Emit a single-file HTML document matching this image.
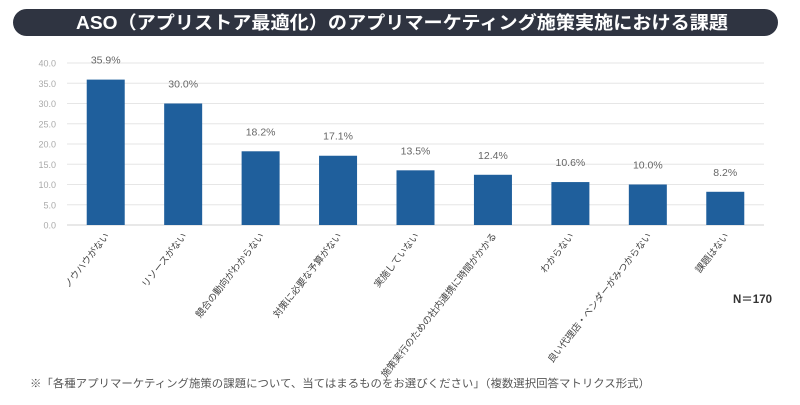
<!DOCTYPE html>
<html><head><meta charset="utf-8"><style>
body{margin:0;background:#fff;width:800px;height:400px;overflow:hidden;font-family:"Liberation Sans","Noto Sans CJK JP",sans-serif}
</style></head><body>
<svg width="800" height="400" xmlns="http://www.w3.org/2000/svg" style="font-family:'Liberation Sans','Noto Sans CJK JP',sans-serif">
<rect x="13" y="9" width="765" height="27" rx="13.5" fill="#2f3441"/>
<text x="402" y="29" text-anchor="middle" fill="#fff" font-size="18" font-weight="bold" textLength="652" lengthAdjust="spacingAndGlyphs">ASO（アプリストア最適化）のアプリマーケティング施策実施における課題</text>
<g id="grid"></g><g id="bars"></g>
<text x="733" y="303" font-size="11.5" fill="#333" font-weight="bold">N＝170</text>
<text x="30" y="387" font-size="11" fill="#555" textLength="620" lengthAdjust="spacingAndGlyphs">※「各種アプリマーケティング施策の課題について、当てはまるものをお選びください」（複数選択回答マトリクス形式）</text>
</svg>
<script>
const categories=["ノウハウがない","リソースがない","競合の動向がわからない","対策に必要な予算がない","実施していない","施策実行のための社内連携に時間がかかる","わからない","良い代理店・ベンダーがみつからない","課題はない"];
const values=[35.9,30.0,18.2,17.1,13.5,12.4,10.6,10.0,8.2];
const ticks=[0,5,10,15,20,25,30,35,40];
const NS="http://www.w3.org/2000/svg";
const y0=225,yTop=63,yMax=40,xL=67,xR=764;
const y=v=>y0-(v/yMax)*(y0-yTop);
const step=(xR-xL)/categories.length;
const xc=i=>xL+step*(i+0.5);
function mk(t,a,p){const e=document.createElementNS(NS,t);for(const k in a)e.setAttribute(k,a[k]);p.appendChild(e);return e;}
const g=document.getElementById('grid'),b=document.getElementById('bars');
ticks.forEach(t=>{
 const l=mk('line',{x1:xL,x2:xR,y1:y(t),y2:y(t),stroke:t===0?'#d0d0d0':'#e6e6e6','stroke-width':1},g);
 
 
 const tx=mk('text',{x:56,y:y(t)+3.5,'text-anchor':'end','font-size':9,fill:'#aaa'},g);
 tx.textContent=t.toFixed(1);
 
 
});
values.forEach((v,i)=>{
 const w=38;
 const r=mk('rect',{x:xc(i)-w/2,y:y(v),width:w,height:y0-y(v),fill:'#1f5f9c'},b);
 
 
 const t=mk('text',{x:xc(i),y:y(v)-16,'text-anchor':'middle','font-size':10.5,fill:'#666'},b);
 t.textContent=v.toFixed(1)+'%';
 
 
 const c=mk('text',{x:0,y:0,'text-anchor':'end','font-size':9.5,fill:'#444',transform:`translate(${xc(i)+4},${236}) rotate(-52)`},b);
 c.textContent=categories[i];
 
 
});
</script>
</body></html>
